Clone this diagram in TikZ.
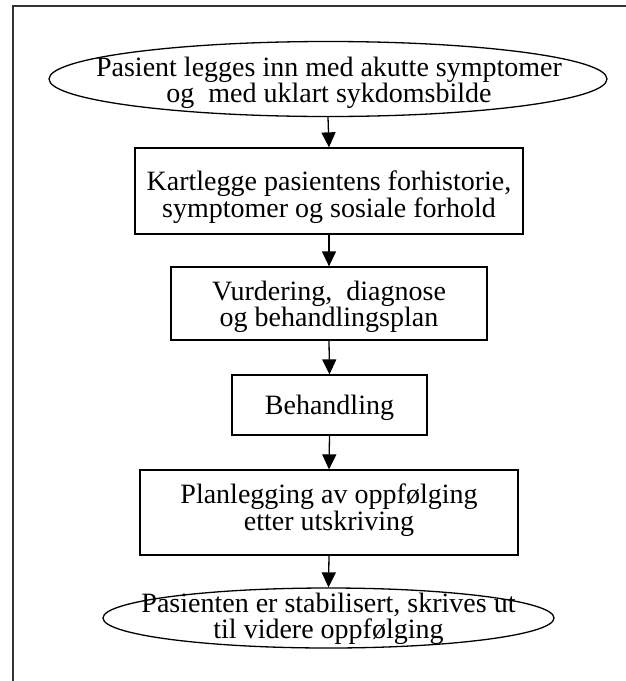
\documentclass[tikz,border=0pt]{standalone}
\usepackage{fontspec}
\setmainfont{Liberation Serif}
\usetikzlibrary{shapes.geometric,arrows.meta}
\tikzset{
  ell/.style={draw, ellipse, line width=1.3pt, inner sep=0pt},
  boxn/.style={draw, rectangle, line width=1.3pt, inner sep=0pt},
  txt/.style={align=center, inner sep=0pt, font=\fontsize{28}{26.5}\selectfont},
  conn/.style={line width=1.3pt, -{Triangle[width=14pt,length=15pt]}},
  frame/.style={line width=2pt, draw=black!80}
}
\begin{document}
\begin{tikzpicture}[x=1pt,y=-1pt]
\useasboundingbox (0,0) rectangle (626,681);
\draw[frame] (13,682) -- (13,6) -- (627,6);
% shapes
\node[ell, minimum width=558pt, minimum height=75pt] (e1) at (328,79) {};
\node[boxn, minimum width=388pt, minimum height=86pt] (b2) at (329,191) {};
\node[boxn, minimum width=316pt, minimum height=73pt] (b3) at (329,303.5) {};
\node[boxn, minimum width=195pt, minimum height=60pt] (b4) at (329.5,405) {};
\node[boxn, minimum width=378pt, minimum height=85pt] (b5) at (329,512.5) {};
\node[ell, minimum width=451pt, minimum height=60pt] (e6) at (328.5,618) {};
% texts
\node[txt] (t1) at (329,83) {Pasient legges inn med akutte symptomer\\og~ med uklart sykdomsbilde};
\node[txt] (t2) at (329,197) {Kartlegge pasientens forhistorie,\\symptomer og sosiale forhold};
\node[txt] (t3) at (329,307) {Vurdering,~ diagnose\\og behandlingsplan};
\node[txt] (t4) at (329.5,408) {Behandling};
\node[txt] (t5) at (329,510) {Planlegging av oppfølging\\etter utskriving};
\node[txt] (t6) at (328.5,619) {Pasienten er stabilisert, skrives ut\\til videre oppfølging};
% connectors
\draw[conn] (e1.south) -- (b2.north);
\draw[conn] (b2.south) -- (b3.north);
\draw[conn] (b3.south) -- (b4.north);
\draw[conn] (b4.south) -- (b5.north);
\draw[conn] (b5.south) -- (e6.north);
\end{tikzpicture}
\end{document}
